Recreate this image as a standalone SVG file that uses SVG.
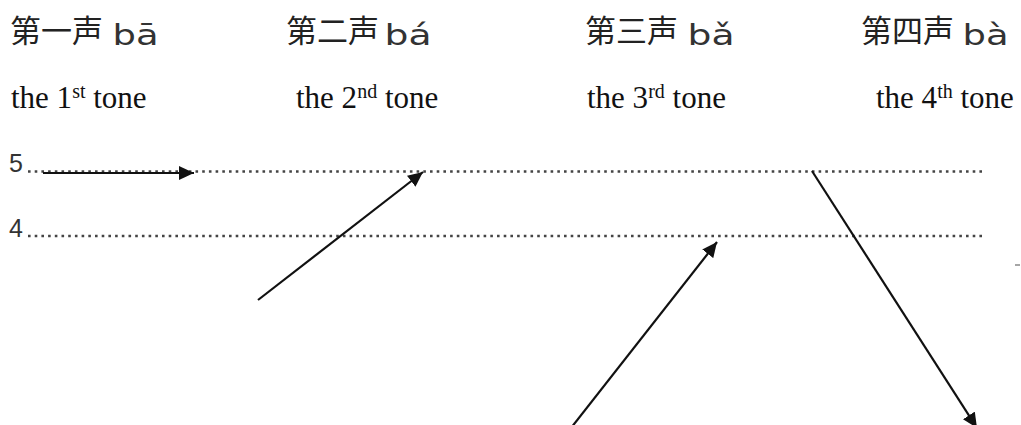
<svg xmlns="http://www.w3.org/2000/svg" width="1021" height="425" viewBox="0 0 1021 425">
<style>
.cjk{font-family:"Noto Sans CJK SC","Noto Sans",sans-serif;font-size:31px;fill:#222}
.py{font-family:"DejaVu Sans",sans-serif;font-size:29px;fill:#333}
.en{font-family:"Liberation Serif",serif;font-size:31px;fill:#111}
.sup{font-size:20px}
.lvl{font-family:"Liberation Sans",sans-serif;font-size:25px;fill:#333}
.dot{stroke:#444;stroke-width:2.6;stroke-dasharray:2.6 4.1;fill:none}
.arr{stroke:#111;stroke-width:2.2;fill:none;marker-end:url(#ah)}
</style>
<defs>
<marker id="ah" markerUnits="userSpaceOnUse" markerWidth="16" markerHeight="14" refX="15" refY="7" orient="auto">
<path d="M0,0 L15,7 L0,14 z" fill="#111"/>
</marker>
</defs>
<rect width="1021" height="425" fill="#fff"/>
<g id="tone1">
<text class="cjk" x="10" y="42">第一声</text>
<text class="py" x="112.5" y="45" textLength="46" lengthAdjust="spacingAndGlyphs">bā</text>
<text class="en" x="11" y="108">the 1<tspan class="sup" dy="-10">st</tspan><tspan dy="10"> tone</tspan></text>
</g>
<g id="tone2">
<text class="cjk" x="286" y="42">第二声</text>
<text class="py" x="384.5" y="45" textLength="47" lengthAdjust="spacingAndGlyphs">bá</text>
<text class="en" x="296" y="108">the 2<tspan class="sup" dy="-10">nd</tspan><tspan dy="10"> tone</tspan></text>
</g>
<g id="tone3">
<text class="cjk" x="585" y="42">第三声</text>
<text class="py" x="687.5" y="45" textLength="47" lengthAdjust="spacingAndGlyphs">bǎ</text>
<text class="en" x="587" y="108">the 3<tspan class="sup" dy="-10">rd</tspan><tspan dy="10"> tone</tspan></text>
</g>
<g id="tone4">
<text class="cjk" x="861" y="42">第四声</text>
<text class="py" x="962.5" y="45" textLength="46" lengthAdjust="spacingAndGlyphs">bà</text>
<text class="en" x="876" y="108">the 4<tspan class="sup" dy="-10">th</tspan><tspan dy="10"> tone</tspan></text>
</g>
<g id="levels">
<text class="lvl" x="9" y="172">5</text>
<text class="lvl" x="9" y="237">4</text>
<line class="dot" x1="28" y1="171.5" x2="983" y2="171.5"/>
<line class="dot" x1="28" y1="236" x2="983" y2="236"/>
<line x1="1015" y1="265" x2="1020" y2="265" stroke="#888" stroke-width="1.5"/>
</g>
<g id="connectors">
<line class="arr" x1="43" y1="173" x2="194" y2="173"/>
<line class="arr" x1="258" y1="300" x2="423" y2="172"/>
<line class="arr" x1="571" y1="428" x2="717" y2="242"/>
<line class="arr" x1="812" y1="171" x2="977" y2="428"/>
</g>
</svg>
